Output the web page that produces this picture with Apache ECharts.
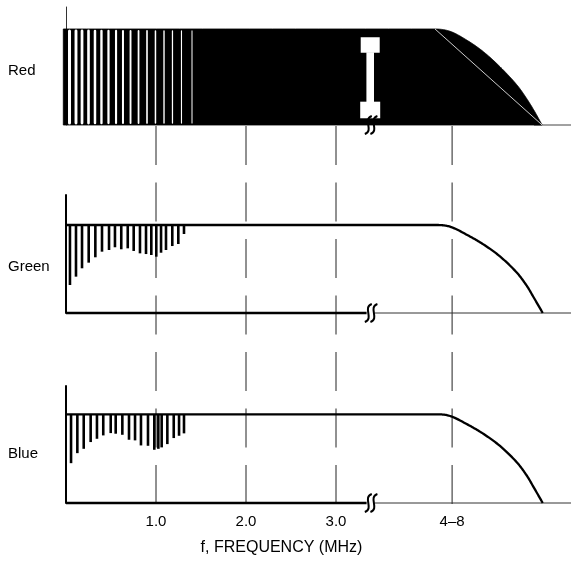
<!DOCTYPE html>
<html><head><meta charset="utf-8">
<script src="https://cdn.jsdelivr.net/npm/echarts@6/dist/echarts.min.js"></script>
<style>html,body{margin:0;padding:0;background:#fff}#c{width:571px;height:564px}</style>
</head><body><div id="c"></div>
<script>
// ---------- data ----------
const channels = ['Red', 'Green', 'Blue'];
const tickValues = [1, 2, 3, 4.29];
const tickLabels = ['1.0', '2.0', '3.0', '4–8'];
const axisTitle = 'f, FREQUENCY (MHz)';
const xMax = 5.611;
const breakAt = 3.39;

// Red channel: filled response, white spectral gaps, diagonal, I-beam marker
const redResponse = [[-0.03, 1], [4.1, 1], [4.267, 0.976], [4.452, 0.885], [4.637, 0.764], [4.822, 0.607], [5.008, 0.42], [5.119, 0.275], [5.211, 0.135], [5.29, 0]];
const redDiagonal = [[4.1, 1], [5.29, 0]];
const redGaps = [0.039, 0.111, 0.178, 0.25, 0.322, 0.394, 0.472, 0.556, 0.633, 0.717, 0.806, 0.9, 0.994, 1.089, 1.183, 1.283, 1.4];
const redIBeam = [[3.38, 0.07, 0.914]]; // x, bottom, top

// Green channel
const greenResponse = [[0, 1], [4.119, 1], [4.267, 0.981], [4.452, 0.89], [4.637, 0.78], [4.822, 0.643], [5.008, 0.46], [5.119, 0.31], [5.192, 0.185], [5.297, 0]];
const greenFreqs = [0.044, 0.111, 0.178, 0.252, 0.326, 0.4, 0.478, 0.544, 0.614, 0.686, 0.752, 0.822, 0.889, 0.948, 1.003, 1.056, 1.111, 1.181, 1.248, 1.311];
const greenLevels = [0.318, 0.413, 0.508, 0.572, 0.633, 0.697, 0.716, 0.747, 0.724, 0.735, 0.705, 0.678, 0.670, 0.659, 0.640, 0.685, 0.716, 0.761, 0.784, 0.898];

// Blue channel
const blueResponse = [[0, 1], [4.119, 1], [4.267, 0.981], [4.452, 0.89], [4.637, 0.78], [4.822, 0.643], [5.008, 0.46], [5.119, 0.31], [5.192, 0.185], [5.297, 0]];
const blueFreqs = [0.056, 0.126, 0.197, 0.274, 0.344, 0.414, 0.497, 0.552, 0.626, 0.7, 0.767, 0.833, 0.911, 0.981, 1.026, 1.063, 1.126, 1.197, 1.256, 1.311];
const blueLevels = [0.449, 0.562, 0.611, 0.687, 0.724, 0.762, 0.788, 0.781, 0.769, 0.713, 0.706, 0.649, 0.645, 0.600, 0.611, 0.627, 0.664, 0.732, 0.758, 0.785];

// ---------- rendering ----------
const FONT = "'Liberation Sans', Arial, sans-serif";
const chart = echarts.init(document.getElementById('c'), null, {renderer: 'canvas'});

const grids = [
  {left: 66, right: 0, top: 7, height: 118},    // red
  {left: 66, right: 0, top: 195, height: 118},  // green
  {left: 66, right: 0, top: 386, height: 117},  // blue
  {left: 66, right: 0, top: 126, height: 378}   // guide overlay
];
const yMaxes = [1.229, 1.341, 1.319, 1];

const xAxes = grids.map((g, i) => ({
  type: 'value', gridIndex: i, min: 0, max: xMax,
  show: i === 2,
  axisLine: {show: false}, axisTick: {show: false}, splitLine: {show: false},
  axisLabel: i === 2 ? {
    show: true, customValues: tickValues, margin: 11,
    color: '#000', fontSize: 15, fontFamily: FONT,
    formatter: v => tickLabels[tickValues.indexOf(v)]
  } : {show: false},
  name: i === 2 ? axisTitle : '',
  nameLocation: 'middle', nameGap: 37,
  nameTextStyle: {color: '#000', fontSize: 16, fontFamily: FONT, padding: [0, 74, 0, 0]}
}));
const yAxes = grids.map((g, i) => ({
  type: 'value', gridIndex: i, min: 0, max: yMaxes[i],
  show: i !== 3,
  axisLine: {show: i !== 3, onZero: false, lineStyle: {color: i === 0 ? '#333' : '#000', width: i === 0 ? 1 : 2}},
  axisTick: {show: false}, axisLabel: {show: false}, splitLine: {show: false}
}));

const series = [];
let zc = 1;
function line(idx, data, color, width, extra) {
  series.push(Object.assign({
    type: 'line', xAxisIndex: idx, yAxisIndex: idx, data: data, z: zc++,
    symbol: 'none', silent: true, clip: false,
    lineStyle: {color: color, width: width}
  }, extra || {}));
}
function custom(idx, data, renderItem) {
  series.push({
    type: 'custom', xAxisIndex: idx, yAxisIndex: idx, silent: true, clip: false,
    z: zc++, data: data, renderItem: renderItem
  });
}

// smooth curve through pixel points (tangent-scaled cubic segments), sampled
function sampleCurve(pts) {
  const n = pts.length, out = [pts[0]];
  const tan = i => {
    if (i > 0 && Math.abs(pts[i - 1][1] - pts[i][1]) < 0.01) return [1, 0]; // leaving a flat plateau
    const a = pts[Math.max(i - 1, 0)], b = pts[Math.min(i + 1, n - 1)];
    const dx = b[0] - a[0], dy = b[1] - a[1], L = Math.hypot(dx, dy) || 1;
    return [dx / L, dy / L];
  };
  for (let i = 0; i < n - 1; i++) {
    const P = pts[i], Q = pts[i + 1];
    const L = Math.hypot(Q[0] - P[0], Q[1] - P[1]) / 3;
    const t0 = tan(i), t1 = tan(i + 1);
    const c1 = [P[0] + t0[0] * L, P[1] + t0[1] * L];
    const c2 = [Q[0] - t1[0] * L, Q[1] - t1[1] * L];
    for (let k = 1; k <= 16; k++) {
      const t = k / 16, u = 1 - t;
      out.push([
        u * u * u * P[0] + 3 * u * u * t * c1[0] + 3 * u * t * t * c2[0] + t * t * t * Q[0],
        u * u * u * P[1] + 3 * u * u * t * c1[1] + 3 * u * t * t * c2[1] + t * t * t * Q[1]
      ]);
    }
  }
  return out;
}
function responseCurve(idx, data, fill, width) {
  custom(idx, data, (params, api) => {
    if (params.dataIndex !== 0) return null;
    const px = data.map(d => api.coord(d));
    const pts = sampleCurve(px);
    if (fill) {
      const base = api.coord([data[data.length - 1][0], 0]);
      const base0 = api.coord([data[0][0], 0]);
      return {type: 'polygon', shape: {points: pts.concat([base, base0])},
              style: {fill: '#000', stroke: '#000', lineWidth: 0.8}};
    }
    return {type: 'polyline', shape: {points: pts},
            style: {stroke: '#000', lineWidth: width, fill: null, lineJoin: 'round'}};
  });
}

// dashed guide lines at tick positions
tickValues.forEach(v => {
  line(3, [[v, 1], [v, 0]], '#222', 1, {lineStyle: {color: '#222', width: 1, type: [39, 17.5]}});
});

function squiggle(idx) {
  custom(idx, [[breakAt, 0]], (params, api) => {
    const p = api.coord([api.value(0), api.value(1)]);
    const mk = dx => ({
      type: 'bezierCurve',
      shape: {x1: p[0] + dx + 3.5, y1: p[1] - 9, cpx1: p[0] + dx - 6, cpy1: p[1] - 6,
              cpx2: p[0] + dx + 6, cpy2: p[1] + 6, x2: p[0] + dx - 3.5, y2: p[1] + 9},
      style: {stroke: '#000', lineWidth: 2, fill: null}
    });
    return {type: 'group', children: [mk(-2.8), mk(2.8)]};
  });
}

// ---- Red ----
line(0, [[5.2, 0], [xMax, 0]], '#444', 1);
responseCurve(0, redResponse, true);
custom(0, redGaps.map(x => [x, 1]), (params, api) => {
  const x = api.value(0);
  const a = api.coord([x, api.value(1) - 0.02]);
  const b = api.coord([x, 0.02]);
  const w = 3 - 2 * params.dataIndex / (redGaps.length - 1);
  return {type: 'line', shape: {x1: a[0], y1: a[1], x2: b[0], y2: b[1]},
          style: {stroke: '#fff', lineWidth: w, lineCap: 'round'}};
});
line(0, redDiagonal, '#fff', 0.8);
custom(0, redIBeam, (params, api) => {
  const top = api.coord([api.value(0), api.value(2)]);
  const bot = api.coord([api.value(0), api.value(1)]);
  const cx = top[0];
  return {type: 'group', children: [
    {type: 'rect', shape: {x: cx - 9.5, y: top[1], width: 19, height: 15.5}, style: {fill: '#fff'}},
    {type: 'rect', shape: {x: cx - 3.8, y: top[1] + 15, width: 7.6, height: bot[1] - top[1] - 31}, style: {fill: '#fff'}},
    {type: 'rect', shape: {x: cx - 10, y: bot[1] - 16.6, width: 20, height: 16.6}, style: {fill: '#fff'}}
  ]};
});
squiggle(0);

// ---- Green & Blue ----
function hanging(idx, freqs, levels) {
  custom(idx, freqs.map((f, i) => [f, levels[i]]), (params, api) => {
    const a = api.coord([api.value(0), 1]);
    const b = api.coord([api.value(0), api.value(1)]);
    return {type: 'line', shape: {x1: a[0], y1: a[1], x2: b[0], y2: b[1]},
            style: {stroke: '#000', lineWidth: 2.6}};
  });
}
[[1, greenResponse, greenFreqs, greenLevels], [2, blueResponse, blueFreqs, blueLevels]].forEach(([idx, resp, fr, lv]) => {
  line(idx, [[0, 0], [breakAt - 0.05, 0]], '#000', 2.6);
  line(idx, [[breakAt + 0.04, 0], [xMax, 0]], '#333', 1);
  hanging(idx, fr, lv);
  responseCurve(idx, resp, false, 2.3);
  squiggle(idx);
});

const labelY = [72, 268, 455];
chart.setOption({
  animation: false,
  backgroundColor: '#fff',
  grid: grids,
  xAxis: xAxes,
  yAxis: yAxes,
  series: series,
  graphic: channels.map((name, i) => ({
    type: 'text', left: 8, top: labelY[i] - 9,
    style: {text: name, fill: '#000', font: '15px ' + FONT}
  }))
});
</script>
</body></html>
